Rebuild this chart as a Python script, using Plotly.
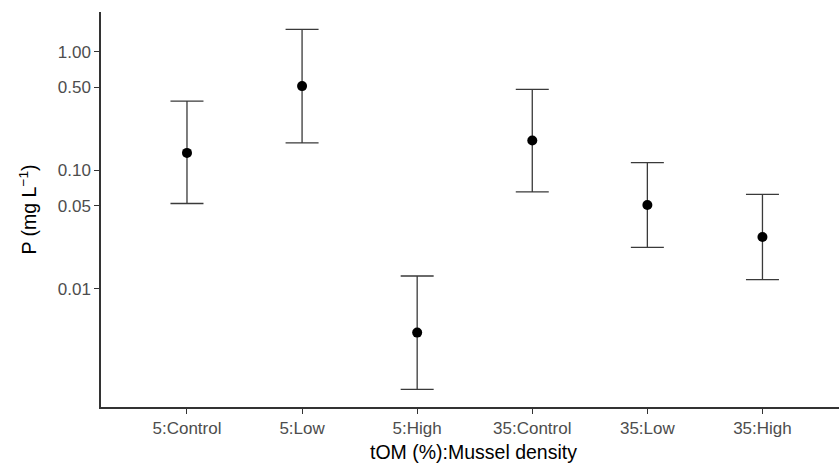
import plotly.graph_objects as go

categories = ["5:Control", "5:Low", "5:High", "35:Control", "35:Low", "35:High"]
mean_p = [0.140, 0.513, 0.00425, 0.178, 0.0509, 0.0273]
lower_p = [0.0523, 0.170, 0.00141, 0.0656, 0.0223, 0.0119]
upper_p = [0.383, 1.545, 0.01278, 0.481, 0.116, 0.0626]
ytick_vals = [0.01, 0.05, 0.10, 0.50, 1.00]
ytick_text = ["0.01", "0.05", "0.10", "0.50", "1.00"]

err_plus = [u - m for u, m in zip(upper_p, mean_p)]
err_minus = [m - l for m, l in zip(mean_p, lower_p)]

FONT = "Liberation Sans, Arial, Helvetica, sans-serif"

fig = go.Figure()
fig.add_trace(go.Scatter(
    x=categories, y=mean_p, mode="markers",
    marker=dict(color="black", size=10),
    error_y=dict(type="data", symmetric=False, array=err_plus, arrayminus=err_minus,
                 color="#3a3a3a", thickness=1.3, width=16.5),
    showlegend=False,
))

fig.update_layout(
    width=839, height=466,
    margin=dict(l=101, r=0, t=12, b=59),
    plot_bgcolor="white", paper_bgcolor="white",
    font=dict(family=FONT, size=17, color="#4D4D4D"),
    xaxis=dict(
        type="category", categoryorder="array", categoryarray=categories,
        range=[-0.747, 5.665],
        showline=True, linecolor="#333333", linewidth=1.5,
        ticks="outside", ticklen=5, tickcolor="#333333", tickwidth=1.1,
        showgrid=False, zeroline=False,
        tickfont=dict(family=FONT, size=17, color="#4D4D4D"),
    ),
    yaxis=dict(
        type="log", range=[-3.0, 0.336],
        tickvals=ytick_vals, ticktext=ytick_text,
        showline=True, linecolor="#333333", linewidth=1.5,
        ticks="outside", ticklen=5, tickcolor="#333333", tickwidth=1.1,
        showgrid=False, zeroline=False,
        tickfont=dict(family=FONT, size=17, color="#4D4D4D"),
    ),
    annotations=[
        dict(text="tOM (%):Mussel density", xref="paper", yref="paper",
             x=(473 - 101) / 738, y=0.0, yshift=-(465 - 407), showarrow=False,
             xanchor="center", yanchor="bottom",
             font=dict(family=FONT, size=19.5, color="black")),
        dict(text="P (mg L<sup>\u22121</sup>)", xref="paper", yref="paper",
             x=-(101 - 27) / 738, y=0.5, showarrow=False, textangle=-90,
             xanchor="center", yanchor="middle",
             font=dict(family=FONT, size=19.5, color="black")),
    ],
)

fig.write_html("out.html")
